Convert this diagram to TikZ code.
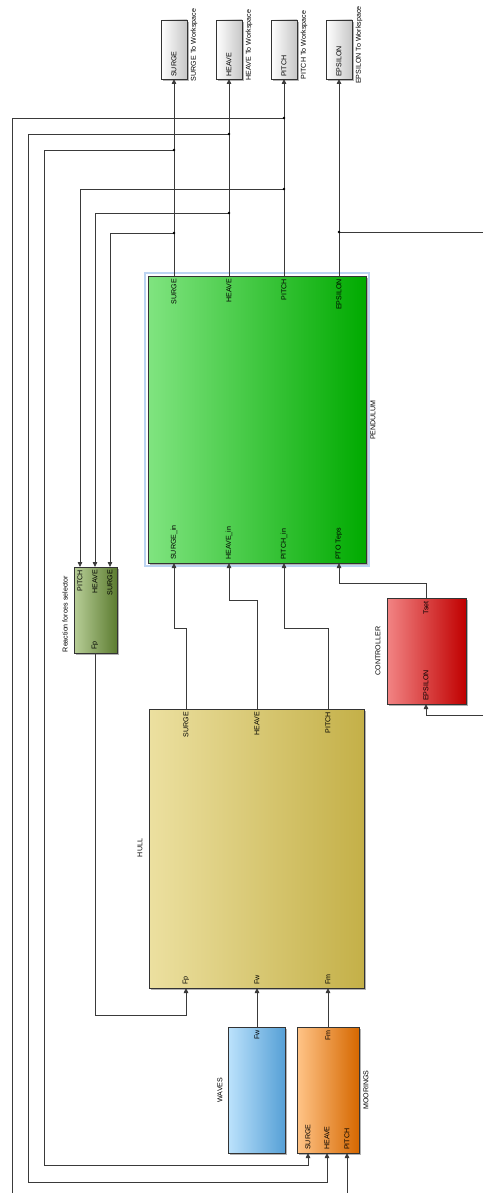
\documentclass[tikz,border=0pt]{standalone}
\usepackage{fontspec}
\setmainfont{Liberation Sans}
\usetikzlibrary{arrows.meta,shadows}
\definecolor{sigc}{HTML}{3A3A3A}
\definecolor{hilite}{HTML}{BCD4F2}
\begin{document}
\begin{tikzpicture}[x=1pt,y=-1pt,
  blk/.style={draw=black!80, line width=0.8pt, inner sep=0pt, outer sep=0pt,
    drop shadow={shadow xshift=1.6pt,shadow yshift=-1.6pt,opacity=.3,fill=black}},
  lbl/.style={font=\fontsize{7.1}{8}\selectfont, rotate=90, inner sep=0pt},
  sig/.style={draw=sigc, line width=0.8pt},
  arr/.style={sig, -{Triangle[length=5pt,width=4.5pt]}},
  jdot/.style={fill=black, circle, inner sep=0pt, minimum size=2.8pt}
]
\useasboundingbox (0,0) rectangle (483,1193);

% ---------- To Workspace blocks
\foreach \n/\cx/\t in {wsS/174/SURGE, wsH/229/HEAVE, wsP/284/PITCH, wsE/339/EPSILON}{
  \node[blk, left color=white, right color=black!22, minimum width=26pt, minimum height=59pt] (\n) at (\cx,49.5) {};
  \node[lbl, anchor=west] at (\cx,77) {\t};
  \node[lbl] at (\cx+20,45) {\t{} To Workspace};
}

% ---------- PENDULUM
\draw[hilite, line width=2.5pt] (145,273) rectangle (369,566);
\node[blk, left color={rgb,255:red,128;green,228;blue,128}, middle color={rgb,255:red,112;green,224;blue,112}, right color={rgb,255:red,0;green,170;blue,0}, minimum width=218pt, minimum height=287pt] (pend) at (257,419.5) {};
\foreach \x/\t in {174/SURGE, 229/HEAVE, 284/PITCH, 339/EPSILON}{
  \node[lbl, anchor=east] at (\x,279) {\t};
}
\foreach \x/\t in {174/SURGE\_in, 229/HEAVE\_in, 284/PITCH\_in, 339/PTO Teps}{
  \node[lbl, anchor=west] at (\x,560) {\t};
}
\node[lbl] (pendname) at (373,420) {PENDULUM};

% ---------- Reaction forces selector
\node[blk, left color={rgb,255:red,184;green,206;blue,152}, right color={rgb,255:red,92;green,124;blue,48}, minimum width=43pt, minimum height=86pt] (sel) at (95.5,610) {};
\foreach \x/\t in {80/PITCH, 95/HEAVE, 110/SURGE}{
  \node[lbl, anchor=east] at (\x,570) {\t};
}
\node[lbl, anchor=west] at (95,650) {Fp};
\node[lbl] at (65,614) {Reaction forces selector};

% ---------- CONTROLLER
\node[blk, left color={rgb,255:red,242;green,132;blue,132}, middle color={rgb,255:red,236;green,110;blue,110}, right color={rgb,255:red,192;green,0;blue,0}, minimum width=79pt, minimum height=106pt] (ctrl) at (426.5,651) {};
\node[lbl, anchor=east] at (426,601) {Tset};
\node[lbl, anchor=west] at (426,701) {EPSILON};
\node[lbl] at (378,651) {CONTROLLER};

% ---------- HULL
\node[blk, left color={rgb,255:red,236;green,224;blue,160}, middle color={rgb,255:red,240;green,228;blue,160}, right color={rgb,255:red,196;green,176;blue,72}, minimum width=215pt, minimum height=279pt] (hull) at (256.5,848.5) {};
\foreach \x/\t in {186/SURGE, 257/HEAVE, 328/PITCH}{
  \node[lbl, anchor=east] at (\x,712) {\t};
}
\foreach \x/\t in {186/Fp, 257/Fw, 328/Fm}{
  \node[lbl, anchor=west] at (\x,985) {\t};
}
\node[lbl] at (140,848) {HULL};

% ---------- WAVES
\node[blk, left color={rgb,255:red,188;green,226;blue,252}, right color={rgb,255:red,86;green,160;blue,214}, minimum width=57pt, minimum height=126pt] (waves) at (256.5,1090) {};
\node[lbl, anchor=east] at (257,1030) {Fw};
\node[lbl] at (220,1090) {WAVES};

% ---------- MOORINGS
\node[blk, left color={rgb,255:red,255;green,196;blue,136}, middle color={rgb,255:red,250;green,178;blue,110}, right color={rgb,255:red,214;green,104;blue,0}, minimum width=62pt, minimum height=126pt] (moor) at (328,1090) {};
\node[lbl, anchor=east] at (328,1030) {Fm};
\foreach \x/\t in {308/SURGE, 327/HEAVE, 347/PITCH}{
  \node[lbl, anchor=west] at (\x,1150) {\t};
}
\node[lbl] at (366,1090) {MOORINGS};

% ---------- junction coordinates and free ends
\coordinate (jP1) at (284,118);
\coordinate (jP2) at (284,189);
\coordinate (jH1) at (229,134);
\coordinate (jH2) at (229,213);
\coordinate (jS1) at (174,150);
\coordinate (jS2) at (174,233);
\coordinate (jE1) at (339,232);
\coordinate (offL) at (12,1193);
\coordinate (offR1) at (483,232);
\coordinate (offR2) at (483,715);
\coordinate (offB) at (347,1193);

% ---------- pendulum outputs to workspace
\draw[arr] (pend.north -| wsS.south) -- (wsS.south);
\draw[arr] (pend.north -| wsH.south) -- (wsH.south);
\draw[arr] (pend.north -| wsP.south) -- (wsP.south);
\draw[arr] (pend.north -| wsE.south) -- (wsE.south);

% branches
\draw[sig] (jP1) -- (12,118) -- (offL);
\draw[arr] (jP2) -- (80,189) -- (sel.north -| 80,0);
\draw[arr] (jH1) -- (28,134) -- (28,1182) -- (327,1182) -- (moor.south -| 327,0);
\draw[arr] (jH2) -- (95,213) -- (sel.north -| 95,0);
\draw[arr] (jS1) -- (44,150) -- (44,1165) -- (308,1165) -- (moor.south -| 308,0);
\draw[arr] (jS2) -- (110,233) -- (sel.north -| 110,0);
\draw[sig] (jE1) -- (offR1);
\draw[arr] (offR2) -- (426,715) -- (ctrl.south -| 426,0);
\draw[arr] (offB) -- (moor.south -| 347,0);
\foreach \j in {jP1,jP2,jH1,jH2,jS1,jS2,jE1} \node[jdot] at (\j) {};

% controller to pendulum
\draw[arr] (ctrl.north -| 426,0) -- (426,583) -- (339,583) -- (pend.south -| 339,0);

% hull to pendulum
\draw[arr] (hull.north -| 186,0) -- (186,628) -- (174,628) -- (pend.south -| 174,0);
\draw[arr] (hull.north -| 257,0) -- (257,600) -- (229,600) -- (pend.south -| 229,0);
\draw[arr] (hull.north -| 328,0) -- (328,628) -- (284,628) -- (pend.south -| 284,0);

% selector to hull
\draw[arr] (sel.south -| 95,0) -- (95,1015) -- (186,1015) -- (hull.south -| 186,0);
% waves, moorings to hull
\draw[arr] (waves.north -| 257,0) -- (hull.south -| 257,0);
\draw[arr] (moor.north -| 328,0) -- (hull.south -| 328,0);
\end{tikzpicture}
\end{document}
